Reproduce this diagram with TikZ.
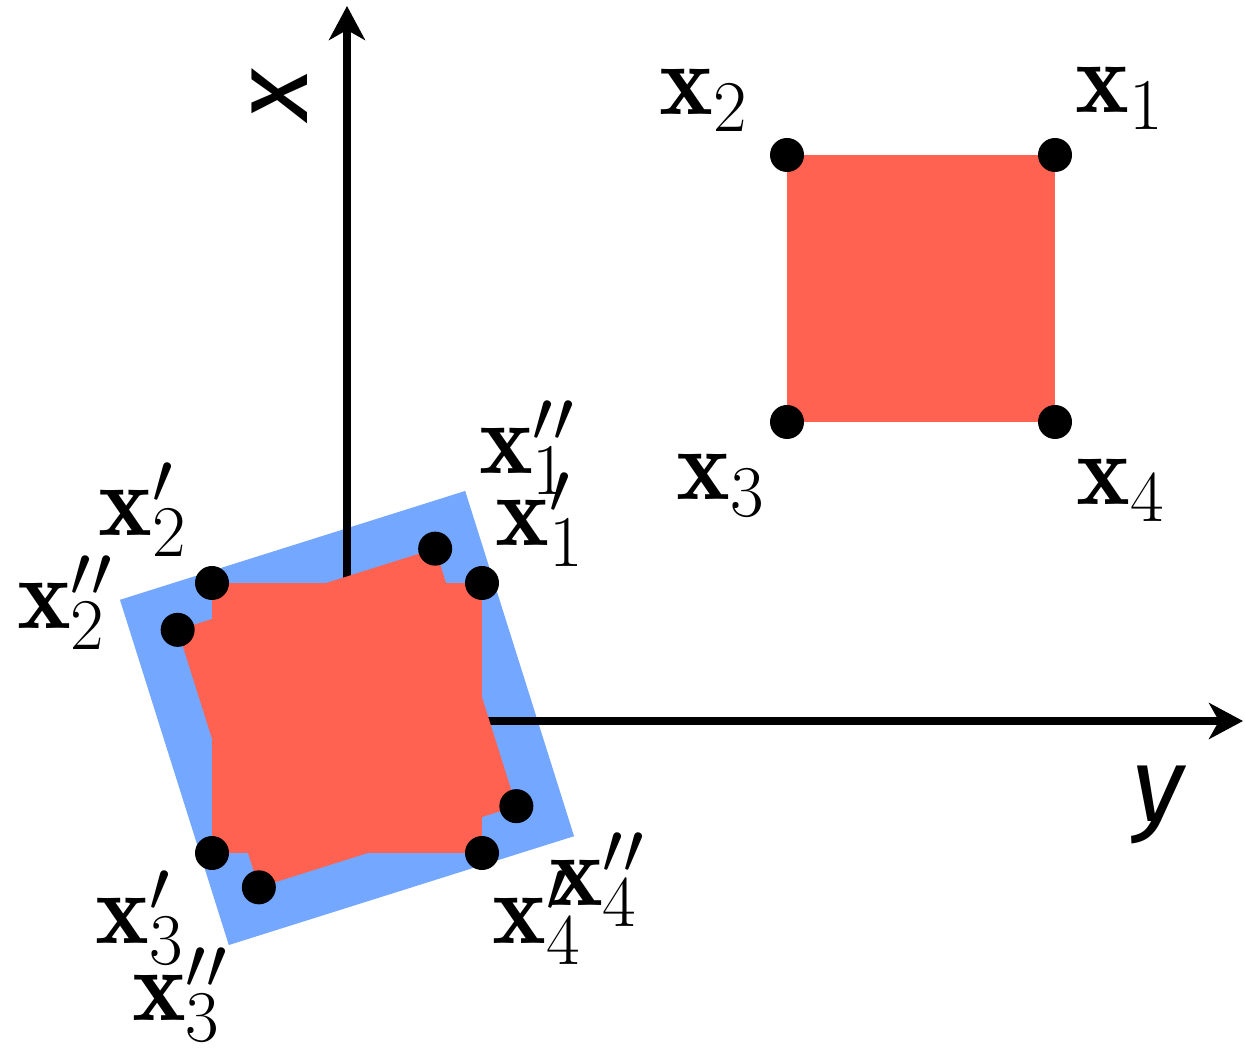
\documentclass[tikz,border=0pt]{standalone}
\usepackage{fontspec}
\newfontfamily\axisfont{Fira Sans}
\usetikzlibrary{arrows.meta}

\definecolor{sqred}{RGB}{255,98,80}
\definecolor{sqblue}{RGB}{116,167,255}

\begin{document}
\begin{tikzpicture}[
        dot/.style={circle, fill=black, inner sep=0pt, minimum size=0.34cm},
        lbl/.style={inner sep=0pt, font=\fontsize{29}{34}\selectfont},
        axislbl/.style={inner sep=0pt, font=\axisfont\itshape\fontsize{30}{34}\selectfont},
        axis/.style={line width=2.3pt, -{Stealth[length=0.34cm, width=0.36cm, inset=0.1cm]}}
    ]
        \useasboundingbox (0,0) rectangle (12.45,10.48);

        \coordinate (O) at (3.47,3.30);
        \coordinate (A) at (3.47,3.27);
        \coordinate (xtip) at (3.47,10.42);
        \coordinate (ytip) at (12.43,3.27);

        % otočený obal
        \begin{scope}[shift={(O)}, rotate=17.5]
            \fill[sqblue] (-1.81,-1.81) rectangle (1.81,1.81);
        \end{scope}

        % osy
        \draw[axis] (A) -- (xtip);
        \draw[axis] (A) -- (ytip);
        \node[axislbl, rotate=90] (xlab) at (2.80,9.53) {x};
        \node[axislbl] (ylab) at (11.58,2.43) {y};

        % dva čtverce
        \begin{scope}[shift={(O)}, rotate=17.5]
            \fill[sqred] (-1.35,-1.35) rectangle (1.35,1.35);
            \node[dot] (p1b) at (1.35,1.35) {};
            \node[dot] (p2b) at (-1.35,1.35) {};
            \node[dot] (p3b) at (-1.35,-1.35) {};
            \node[dot] (p4b) at (1.35,-1.35) {};
        \end{scope}
        \begin{scope}[shift={(O)}]
            \fill[sqred] (-1.35,-1.35) rectangle (1.35,1.35);
            \node[dot] (p1a) at (1.35,1.35) {};
            \node[dot] (p2a) at (-1.35,1.35) {};
            \node[dot] (p3a) at (-1.35,-1.35) {};
            \node[dot] (p4a) at (1.35,-1.35) {};
        \end{scope}

        % původní čtverec
        \fill[sqred] (7.87,6.26) rectangle (10.55,8.93);
        \node[dot] (p1) at (10.55,8.93) {};
        \node[dot] (p2) at (7.87,8.93) {};
        \node[dot] (p3) at (7.87,6.26) {};
        \node[dot] (p4) at (10.55,6.26) {};

        % popisky
        \node[lbl] (l1) at (11.20,9.50) {$\mathbf{x}_1$};
        \node[lbl] (l2) at (7.04,9.48) {$\mathbf{x}_2$};
        \node[lbl] (l3) at (7.21,5.63) {$\mathbf{x}_3$};
        \node[lbl] (l4) at (11.21,5.58) {$\mathbf{x}_4$};

        \node[lbl] (l1a) at (5.40,5.28) {$\mathbf{x}_1'$};
        \node[lbl] (l2a) at (1.43,5.38) {$\mathbf{x}_2'$};
        \node[lbl] (l3a) at (1.40,1.30) {$\mathbf{x}_3'$};
        \node[lbl] (l4a) at (5.37,1.30) {$\mathbf{x}_4'$};

        \node[lbl] (l1b) at (5.27,6.00) {$\mathbf{x}_1''$};
        \node[lbl] (l2b) at (0.65,4.45) {$\mathbf{x}_2''$};
        \node[lbl] (l3b) at (1.80,0.53) {$\mathbf{x}_3''$};
        \node[lbl] (l4b) at (5.97,1.68) {$\mathbf{x}_4''$};
    \end{tikzpicture}
\end{document}
